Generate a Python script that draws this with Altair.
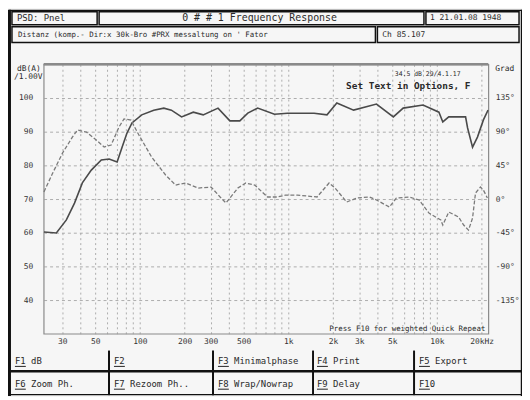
import altair as alt
import pandas as pd

# ---------------- data ----------------
mag_freq = [22.6, 27.4, 32.0, 36.3, 41.0, 47.1, 55.0, 62.1, 70.3, 75.9,
            81.9, 88.5, 103, 124, 145, 163, 191, 229, 267, 336,
            404, 471, 533, 621, 806, 985, 1490, 1820, 2120, 2750,
            3920, 5090, 5930, 8070, 10320, 10960, 12020, 15600, 16100, 17380,
            18760, 20570, 22100]
mag_db = [60.2, 59.9, 63.8, 68.8, 74.8, 78.6, 81.6, 81.9, 81.0, 85.4,
          89.6, 92.6, 95.0, 96.4, 97.0, 96.4, 94.4, 95.8, 95.0, 97.0,
          93.2, 93.2, 95.5, 97.0, 95.2, 95.5, 95.5, 95.0, 98.5, 96.4,
          98.2, 94.4, 97.0, 97.9, 95.8, 92.9, 94.4, 94.4, 91.1, 85.4,
          88.4, 93.5, 96.4]

ph_freq = [22.6, 25.9, 30.2, 35.2, 38.0, 43.7, 50.9, 57.5, 64.1, 72.4,
           78.2, 87.1, 98.5, 120, 149, 174, 203, 247, 302, 347,
           380, 457, 517, 593, 724, 845, 955, 1150, 1560, 1880,
           2060, 2470, 2880, 3520, 3920, 4790, 5330, 6510, 7590, 8840,
           10630, 10960, 12020, 14010, 15140, 16330, 17380, 18200, 19650, 20570,
           21880]
ph_deg = [9.5, 34.8, 61.7, 83.0, 92.2, 89.5, 78.8, 69.5, 72.2, 96.3,
          107, 105.6, 85.5, 56.1, 32.1, 18.7, 21.4, 14.7, 16.0, 2.7,
          -5.3, 14.7, 21.4, 18.7, 2.7, 2.7, 5.3, 5.3, 2.7, 21.4,
          14.7, -4.0, 1.3, 2.7, -1.3, -10.7, 1.3, 2.7, -1.3, -18.7,
          -28.1, -34.8, -17.4, -24.1, -34.8, -41.5, -25.4, 8.0, 16.0, 12.0,
          1.3]

db_ticks = [40, 50, 60, 70, 80, 90, 100]
deg_ticks = [-135, -90, -45, 0, 45, 90, 135]
freq_grid = [30, 40, 50, 60, 70, 80, 90,
             100, 200, 300, 400, 500, 600, 700, 800, 900,
             1000, 2000, 3000, 4000, 5000, 6000, 7000, 8000, 9000,
             10000, 20000]
freq_labels = [30, 50, 100, 200, 300, 500, 1000, 2000, 3000, 5000, 10000, 20000]

header_texts = ["PSD: Pnel", "0 # # 1   Frequency Response", "1 21.01.08 1948",
                "Distanz (komp.- Dir:x 30k-Bro #PRX messaltung on ' Fator", "Ch 85.107"]
plot_texts = ["34.5 dB 29/4.1.17", "Set Text  in Options, F",
              "Press F10 for weighted Quick Repeat"]
fkey_row1 = ["F1  dB", "F2", "F3 Minimalphase", "F4 Print", "F5 Export"]
fkey_row2 = ["F6 Zoom Ph.", "F7 Rezoom Ph..", "F8 Wrap/Nowrap", "F9 Delay", "F10"]

MONO = "DejaVu Sans Mono"
OX, OY = 44, 63          # plot origin in page pixels
W, H = 449, 272

mag_df = pd.DataFrame({"f": mag_freq, "db": mag_db})
ph_df = pd.DataFrame({"f": ph_freq, "deg": ph_deg})
one = pd.DataFrame({"a": [0]})

lab_list = ",".join(str(v) for v in freq_labels)
label_expr = ("indexof([" + lab_list + "], datum.value) >= 0 ? "
              "(datum.value == 20000 ? '20kHz' : datum.value >= 1000 ? "
              "(datum.value/1000) + 'k' : '' + datum.value) : ''")

xenc = alt.X("f:Q",
             scale=alt.Scale(type="log", domain=[22.5, 22200], nice=False),
             axis=alt.Axis(values=freq_grid, labelExpr=label_expr, grid=True,
                           gridDash=[2, 3], gridColor="#9a9a9a", gridWidth=0.8,
                           ticks=False, domain=False, title=None,
                           labelFont=MONO, labelFontSize=8, labelColor="#333",
                           labelPadding=4, labelOverlap=False, labelFlush=False))

mag = alt.Chart(mag_df).mark_line(color="#4a4a4a", strokeWidth=1.6).encode(
    x=xenc,
    y=alt.Y("db:Q", scale=alt.Scale(domain=[30, 110], nice=False, zero=False),
            axis=alt.Axis(values=db_ticks, orient="left", grid=True,
                          gridDash=[3, 3], gridColor="#9a9a9a", gridWidth=0.8,
                          ticks=False, domain=False, title=None,
                          labelFont=MONO, labelFontSize=8, labelColor="#333",
                          labelPadding=11)))

ph = alt.Chart(ph_df).mark_line(color="#7a7a7a", strokeWidth=1.3,
                                strokeDash=[4, 2]).encode(
    x=xenc,
    y=alt.Y("deg:Q", scale=alt.Scale(domain=[-180, 180], nice=False, zero=False),
            axis=alt.Axis(values=deg_ticks, orient="right", grid=False,
                          ticks=False, domain=False, title=None,
                          labelExpr="datum.value + '°'", labelAlign="left",
                          labelFont=MONO, labelFontSize=8, labelColor="#333",
                          labelPadding=7)))


def txt(s, x, y, size=9, align="left", weight="normal", color="#2a2a2a"):
    return alt.Chart(one).mark_text(text=s, align=align, baseline="middle",
                                    fontSize=size, font=MONO, fontWeight=weight,
                                    color=color).encode(
        x=alt.value(x - OX), y=alt.value(y - OY))


def box(x1, y1, x2, y2, stroke="#111", sw=1.5):
    return alt.Chart(one).mark_rect(fill="transparent", stroke=stroke,
                                    strokeWidth=sw).encode(
        x=alt.value(x1 - OX), x2=alt.value(x2 - OX),
        y=alt.value(y1 - OY), y2=alt.value(y2 - OY))


def hline(x1, x2, y, color="#111", sw=2):
    return alt.Chart(one).mark_rule(color=color, strokeWidth=sw).encode(
        x=alt.value(x1 - OX), x2=alt.value(x2 - OX), y=alt.value(y - OY))


def vline(x, y1, y2, color="#111", sw=2):
    return alt.Chart(one).mark_rule(color=color, strokeWidth=sw).encode(
        x=alt.value(x - OX), y=alt.value(y1 - OY), y2=alt.value(y2 - OY))


deco = [
    vline(9.5, 8, 398, sw=3),
    hline(9, 527, 8.5, sw=1.5),
    vline(526.5, 8, 398, sw=1.5),
    hline(9, 527, 396.5, sw=1.5),
    # header boxes
    box(12, 10, 98, 23), box(100, 10, 428, 23), box(430, 10, 524, 23),
    box(12, 25, 379, 41), box(381, 25, 524, 41),
    txt(header_texts[0], 17, 16.5, size=9),
    txt(header_texts[1], 262, 16.5, size=10, align="center"),
    txt(header_texts[2], 434, 16.5, size=8),
    txt(header_texts[3], 18, 33, size=7.5),
    txt(header_texts[4], 386, 33, size=8),
    # axis titles
    txt("dB(A)", 17, 68, size=8),
    txt("/1.00V", 14, 76, size=8),
    txt("Grad", 500, 68, size=8),
    # plot top border (double)
    hline(OX, OX + W, OY, color="#8a8a8a", sw=2.5),
    # texts inside plot
    txt(plot_texts[0], 465, 73, size=6.5, align="right"),
    txt(plot_texts[1], 475, 84.5, size=9.5, align="right", weight="bold"),
    txt(plot_texts[2], 490, 330, size=7.5, align="right"),
    # function key area
    hline(10, 526, 373, sw=2.5),
    vline(110, 352, 397), vline(215, 352, 397),
    vline(316, 352, 397), vline(418, 352, 397),
]
fx = [15, 115, 220, 320, 423]
for i in range(5):
    deco.append(txt(fkey_row1[i], fx[i], 363, size=9))
    deco.append(txt(fkey_row2[i], fx[i], 386, size=9))
    deco.append(hline(fx[i], fx[i] + 11, 368, color="#222", sw=1))
    deco.append(hline(fx[i], fx[i] + 11, 391, color="#222", sw=1))

chart = alt.layer(mag, ph, *deco).resolve_scale(y="independent").properties(
    width=W, height=H,
    autosize=alt.AutoSizeParams(type="none"),
    padding={"left": 36, "top": 55, "right": 34, "bottom": 62},
    background="#f6f6f6",
).configure_view(stroke="#8a8a8a", strokeWidth=1.2)

chart.save("out.html", embed_options={"renderer": "svg", "actions": False})
